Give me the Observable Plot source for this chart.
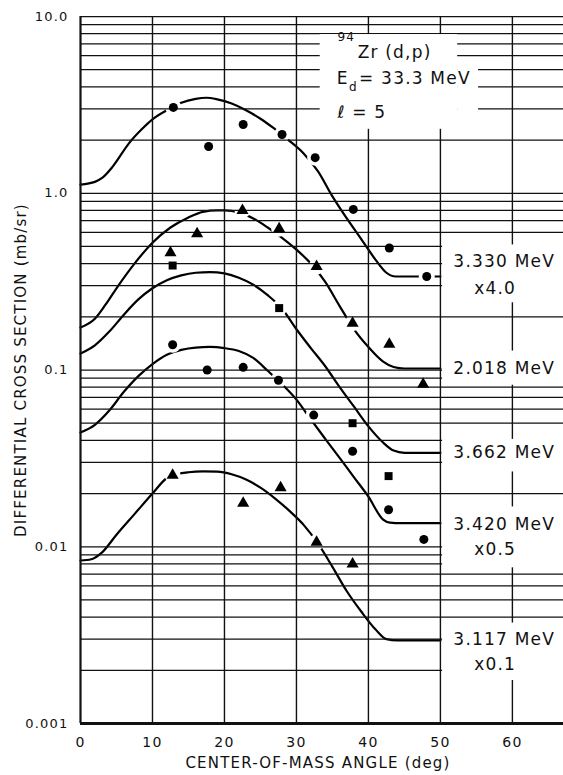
<!DOCTYPE html>
<html>
<head>
<meta charset="utf-8">
<script src="https://cdn.jsdelivr.net/npm/d3@7"></script>
<script src="https://cdn.jsdelivr.net/npm/@observablehq/plot@0.6"></script>
<style>
  html, body { margin: 0; padding: 0; background: #fff; }
</style>
</head>
<body>
<div id="chart"></div>
<script>
// 94Zr(d,p), Ed = 33.3 MeV, l = 5 angular distributions (mb/sr), scaled as labelled.

// Measured points per level
const angle3330 = [12.9, 17.8, 22.6, 28.0, 32.6, 37.9, 42.9, 48.1];
const sigma3330 = [3.06, 1.84, 2.45, 2.15, 1.59, 0.81, 0.49, 0.338];

const angle2018 = [12.5, 16.2, 22.5, 27.6, 32.8, 37.8, 42.9, 47.6];
const sigma2018 = [0.46, 0.59, 0.80, 0.63, 0.385, 0.184, 0.14, 0.083];

const angle3662 = [12.8, 27.6, 37.8, 42.8];
const sigma3662 = [0.39, 0.224, 0.050, 0.0251];

const angle3420 = [12.8, 17.6, 22.6, 27.5, 32.4, 37.8, 42.8, 47.7];
const sigma3420 = [0.139, 0.10, 0.1035, 0.0875, 0.0556, 0.0347, 0.0162, 0.0110];

const angle3117 = [12.8, 22.6, 27.8, 32.8, 37.8];
const sigma3117 = [0.0254, 0.0176, 0.0216, 0.0106, 0.0080];

// DWBA curves per level
const curveAngle3330 = [0, 2, 3, 4.5, 6.7, 8.5, 10, 12, 14, 16, 17.5, 19, 21, 23, 25, 26.8, 28.9, 31, 33, 35, 37, 39, 41, 42.5, 43.8, 50];
const curveSigma3330 = [1.12, 1.16, 1.22, 1.42, 1.91, 2.3, 2.62, 2.95, 3.25, 3.42, 3.47, 3.4, 3.22, 2.95, 2.64, 2.34, 2.0, 1.68, 1.33, 0.96, 0.72, 0.55, 0.42, 0.355, 0.338, 0.338];

const curveAngle2018 = [0, 2, 3.5, 5, 7.5, 10, 12.5, 15, 17, 19, 20, 22, 24, 26, 28, 30, 32, 34, 36, 38, 40, 42, 43.5, 45, 50];
const curveSigma2018 = [0.174, 0.195, 0.235, 0.29, 0.40, 0.525, 0.64, 0.73, 0.785, 0.80, 0.80, 0.78, 0.72, 0.64, 0.56, 0.48, 0.40, 0.315, 0.23, 0.17, 0.135, 0.112, 0.104, 0.102, 0.102];

const curveAngle3662 = [0, 2, 4, 6, 8, 10, 12, 14, 16, 18, 20, 22, 24, 26, 28, 30, 32, 34, 36, 38, 40, 42, 43.5, 45, 50];
const curveSigma3662 = [0.124, 0.138, 0.165, 0.205, 0.25, 0.29, 0.322, 0.343, 0.355, 0.358, 0.352, 0.333, 0.304, 0.265, 0.222, 0.17, 0.133, 0.105, 0.08, 0.062, 0.048, 0.039, 0.035, 0.034, 0.034];

const curveAngle3420 = [0, 2, 4, 6, 8, 10, 12, 14, 16, 18, 20, 22, 24, 26, 28, 30, 32, 34, 36, 38, 40, 42, 43, 44.5, 50];
const curveSigma3420 = [0.0443, 0.049, 0.059, 0.075, 0.092, 0.108, 0.122, 0.130, 0.134, 0.135, 0.133, 0.128, 0.117, 0.099, 0.083, 0.068, 0.0525, 0.0408, 0.0318, 0.0247, 0.0192, 0.0143, 0.0137, 0.0136, 0.0136];

const curveAngle3117 = [0, 1.5, 3, 5, 7.5, 10, 12, 13.5, 15, 17, 19, 21, 23, 25, 27, 29, 31, 33, 35, 37, 39, 41, 42.5, 44, 50];
const curveSigma3117 = [0.00836, 0.0085, 0.0093, 0.0117, 0.0153, 0.020, 0.0245, 0.0258, 0.0264, 0.0267, 0.0266, 0.0257, 0.024, 0.0216, 0.0188, 0.016, 0.0133, 0.0104, 0.0077, 0.0056, 0.0043, 0.0034, 0.003, 0.00295, 0.00295];

// Level labels and scale factors
const levelNames = ["3.330 MeV", "2.018 MeV", "3.662 MeV", "3.420 MeV", "3.117 MeV"];
const levelFactors = ["x4.0", "", "", "x0.5", "x0.1"];

// Axis ticks
const decades = [0.001, 0.01, 0.1, 1];
const multipliers = [1, 2, 3, 4, 5, 6, 7, 8, 9];
const yTicks = [0.001, 0.01, 0.1, 1, 10];
const yTickLabels = ["0.001", "0.01", "0.1", "1.0", "10.0"];
const xTicks = [0, 10, 20, 30, 40, 50, 60];
const xTickLabels = ["0", "10", "20", "30", "40", "50", "60"];

// ---- assemble tables for the marks ----
const series = [
  {name: levelNames[0], symbol: "circle",   a: angle3330, s: sigma3330, ca: curveAngle3330, cs: curveSigma3330},
  {name: levelNames[1], symbol: "triangle", a: angle2018, s: sigma2018, ca: curveAngle2018, cs: curveSigma2018},
  {name: levelNames[2], symbol: "square",   a: angle3662, s: sigma3662, ca: curveAngle3662, cs: curveSigma3662},
  {name: levelNames[3], symbol: "circle",   a: angle3420, s: sigma3420, ca: curveAngle3420, cs: curveSigma3420},
  {name: levelNames[4], symbol: "triangle", a: angle3117, s: sigma3117, ca: curveAngle3117, cs: curveSigma3117}
];
const points = series.flatMap(d => d.a.map((a, i) => ({level: d.name, symbol: d.symbol, angle: a, sigma: d.s[i]})));
const curves = series.flatMap(d => d.ca.map((a, i) => ({level: d.name, angle: a, sigma: d.cs[i]})));
const gridY = decades.flatMap(d => multipliers.map(m => +(d * m).toPrecision(3))).concat([10]);
const gridX = xTicks.filter(d => d > 0);

// label placement beside the flat tails of the curves
const labelSigma = [0.41, 0.102, 0.034, 0.0133, 0.003];
const factorSigma = [0.29, null, null, 0.0097, 0.00215];
const names = levelNames.map((t, i) => ({text: t, angle: 51.8, sigma: labelSigma[i]}));
const factors = levelFactors.map((t, i) => ({text: t, angle: 57.6, sigma: factorSigma[i]})).filter(d => d.text);

// clear areas behind the labels
const blanks = [
  {x1: 33.3, x2: 52.4, y1: 2.3, y2: 7.9},
  {x1: 52.4, x2: 55.3, y1: 2.3, y2: 5.4},
  {x1: 50.3, x2: 67.1, y1: 0.24, y2: 0.51},
  {x1: 50.3, x2: 67.1, y1: 0.082, y2: 0.128},
  {x1: 50.3, x2: 67.1, y1: 0.0265, y2: 0.0405},
  {x1: 50.3, x2: 67.1, y1: 0.0076, y2: 0.0168},
  {x1: 50.3, x2: 67.1, y1: 0.00175, y2: 0.0037}
];

// reaction annotation
const reactionBig = [
  {text: "Zr (d,p)", angle: 38.5, sigma: 6.25},
  {text: "E", angle: 35.6, sigma: 4.46},
  {text: "= 33.3 MeV", angle: 38.7, sigma: 4.46},
  {text: "ℓ = 5", angle: 35.7, sigma: 2.86}
];
const reactionSmall = [
  {text: "94", angle: 35.7, sigma: 7.6},
  {text: "d", angle: 37.3, sigma: 4.0}
];

const ink = "#111";
const symbolMarks = ["circle", "triangle", "square"].map(sym =>
  Plot.dot(points.filter(p => p.symbol === sym), {x: "angle", y: "sigma", symbol: sym, r: 4.5, fill: "#000", stroke: "none"})
);

const chart = Plot.plot({
  width: 563,
  height: 775,
  marginLeft: 80,
  marginRight: 0,
  marginTop: 16,
  marginBottom: 52,
  style: "font-family:'DejaVu Sans',sans-serif;letter-spacing:1.2px;background:#fff;overflow:visible;color:#111",
  x: {domain: [0, 67.1], axis: null},
  y: {type: "log", domain: [0.001, 10], axis: null},
  marks: [
    Plot.line(curves, {x: "angle", y: "sigma", z: "level", curve: "monotone-x", stroke: "#000", strokeWidth: 2.2}),
    // gaps in the curves where they pass the markers
    Plot.dot(points, {x: "angle", y: "sigma", r: 8, fill: "#fff", stroke: "none"}),
    Plot.ruleY(gridY, {stroke: ink, strokeWidth: 1.25}),
    Plot.ruleX(gridX, {stroke: ink, strokeWidth: 1.4}),
    Plot.rect(blanks, {x1: "x1", x2: "x2", y1: "y1", y2: "y2", fill: "#fff"}),
    Plot.ruleX([0], {stroke: ink, strokeWidth: 2.2}),
    Plot.ruleY([0.001], {stroke: ink, strokeWidth: 3}),
    ...symbolMarks,
    Plot.text(yTicks, {x: 0, y: d => d, text: (d, i) => yTickLabels[i], textAnchor: "end", dx: -12, fontSize: 13}),
    Plot.text(xTicks, {x: d => d, y: 0.001, text: (d, i) => xTickLabels[i], dy: 19, fontSize: 14}),
    Plot.text(["DIFFERENTIAL CROSS SECTION (mb/sr)"], {frameAnchor: "left", textAnchor: "middle", dx: -59, rotate: -90, fontSize: 15}),
    Plot.text(["CENTER-OF-MASS ANGLE (deg)"], {frameAnchor: "bottom", textAnchor: "middle", dy: 44, dx: -4, fontSize: 15}),
    Plot.text(names, {x: "angle", y: "sigma", text: "text", textAnchor: "start", fontSize: 17}),
    Plot.text(factors, {x: "angle", y: "sigma", text: "text", fontSize: 17}),
    Plot.text(reactionBig, {x: "angle", y: "sigma", text: "text", textAnchor: "start", fontSize: 17}),
    Plot.text(reactionSmall, {x: "angle", y: "sigma", text: "text", textAnchor: "start", fontSize: 12})
  ]
});

document.getElementById("chart").appendChild(chart);
</script>
</body>
</html>
